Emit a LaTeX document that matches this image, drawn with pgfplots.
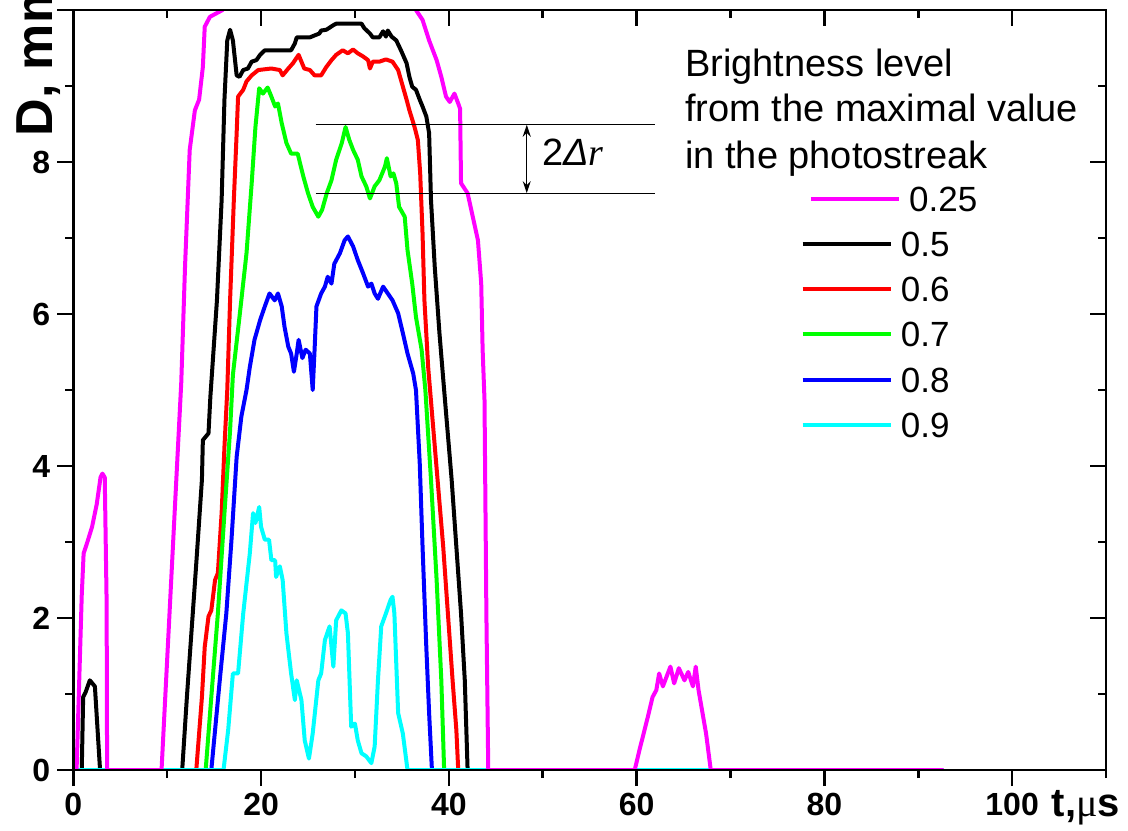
\documentclass[border=0pt]{standalone}
\usepackage{fontspec}
\setmainfont{Liberation Sans}
\newfontfamily\seriffont{Liberation Serif}
\usepackage{pgfplots}
\pgfplotsset{compat=1.18}
\usetikzlibrary{arrows.meta}
\definecolor{cmag}{RGB}{255,0,255}
\definecolor{cred}{RGB}{255,0,0}
\definecolor{cgreen}{RGB}{0,255,0}
\definecolor{cblue}{RGB}{0,0,255}
\definecolor{ccyan}{RGB}{0,255,255}
\pgfplotsset{
  common/.style={
    at={(0pt,0pt)}, anchor=south west, scale only axis,
    width=516.35pt, height=380pt,
    xmin=0, xmax=110, ymin=0, ymax=10,
    xtick={0,20,40,60,80,100}, ytick={0,2,4,6,8,10},
    minor xtick={10,30,50,70,90,110}, minor ytick={1,3,5,7,9},
    major tick length=8pt, minor tick length=4pt,
    tick style={black, line width=1.3pt},
    axis line style={line width=1.3pt},
  }
}
\begin{document}
\begin{tikzpicture}
\useasboundingbox (-36.65pt,-30pt) rectangle (527.35pt,385pt);
\begin{axis}[common,
  xtick pos=left, ytick pos=left, tick align=outside,
  yticklabels={0,2,4,6,8,{}},
  tick label style={font=\bfseries\fontsize{16}{16}\selectfont},
  /pgf/number format/assume math mode=true,
  xlabel={t,{\seriffont\mdseries μ}s},
  ylabel={D, mm},
  xlabel style={at={(axis description cs:0.947,0)}, anchor=base west, yshift=-23.3pt, inner sep=0pt, font=\bfseries\fontsize{20}{20}\selectfont},
  ylabel style={at={(axis description cs:-0.0197,0.833)}, anchor=base west, inner sep=0pt, font=\bfseries\fontsize{26}{26}\selectfont},
  legend style={at={(0.7043,0.768)}, anchor=north west, draw=none, fill=none,
    inner sep=0pt, outer sep=0pt, row sep=10.1pt,
    font=\fontsize{17.5}{17.5}\selectfont,
    nodes={inner sep=0pt, text height=12.5pt, text depth=0pt}},
  legend cell align=left,
  legend image code/.code={\draw[#1, line width=2pt] (0pt,0pt) -- (44pt,0pt); \path[draw=none] (0pt,0pt) -- (46.6pt,0pt);},
]
% black 0.5
\addplot[black, line width=2pt, line join=round, forget plot] coordinates {
(0.9,0)(1.05,0.96)(1.3,1.02)(1.76,1.18)(2.3,1.1)(2.85,0)
};
\addplot[black, line width=2pt, line join=round, forget plot] coordinates {
(11.6,0)(12.1,0.96)(12.6,1.84)(13.1,2.72)(13.7,3.82)(13.8,4.34)(14.4,4.43)(14.6,4.91)(15.3,6.18)(15.8,7.5)(16.1,8.82)(16.4,9.6)(16.7,9.74)(17.0,9.6)(17.4,9.14)(17.7,9.12)(18.1,9.21)(18.6,9.23)(19.0,9.32)(19.5,9.34)(19.9,9.41)(20.4,9.47)(23.2,9.47)(23.6,9.56)(23.8,9.64)(25.2,9.64)(26.2,9.69)(26.4,9.73)(26.95,9.74)(27.7,9.8)(28.0,9.82)(30.7,9.82)(31.0,9.76)(31.6,9.69)(31.9,9.64)(32.6,9.64)(33.0,9.72)(33.3,9.65)(33.5,9.73)(33.9,9.65)(34.4,9.6)(34.9,9.47)(35.5,9.3)(35.8,9.12)(36.1,8.99)(36.5,8.95)(36.9,8.82)(37.2,8.73)(37.6,8.6)(37.9,8.38)(38.1,7.5)(38.5,6.62)(39.0,5.75)(39.5,5.0)(40.3,3.82)(40.8,2.94)(41.3,2.06)(41.7,1.18)(42.0,0)
};
% red 0.6
\addplot[cred, line width=2pt, line join=round, forget plot] coordinates {
(13.1,0)(13.7,0.96)(14.0,1.62)(14.4,2.02)(14.7,2.1)(15.1,2.5)(15.4,2.59)(15.8,3.38)(16.1,4.25)(16.4,5.0)(16.7,6.18)(17.1,7.5)(17.4,8.38)(17.55,8.86)(18.1,8.95)(18.45,9.06)(19.0,9.14)(19.7,9.21)(21.1,9.23)(22.0,9.21)(22.3,9.14)(22.9,9.23)(23.4,9.3)(24.0,9.41)(24.6,9.23)(25.2,9.21)(25.7,9.14)(26.4,9.14)(26.95,9.25)(27.5,9.34)(28.0,9.41)(28.7,9.47)(29.25,9.43)(29.8,9.48)(30.3,9.43)(30.85,9.39)(31.4,9.34)(31.6,9.23)(31.9,9.32)(32.6,9.32)(33.3,9.35)(34.0,9.32)(34.6,9.21)(34.9,9.08)(35.5,8.82)(35.8,8.68)(36.35,8.46)(36.7,8.29)(36.95,7.85)(37.2,7.06)(37.4,6.18)(37.8,5.3)(38.0,5.0)(38.8,3.82)(39.4,2.94)(39.9,2.06)(40.4,1.18)(40.8,0.53)(41.0,0)
};
% green 0.7
\addplot[cgreen, line width=2pt, line join=round, forget plot] coordinates {
(14.1,0)(14.7,0.96)(15.4,2.06)(16.1,3.38)(16.7,4.47)(17.0,5.2)(17.7,5.96)(18.45,6.8)(19.0,7.72)(19.4,8.46)(19.8,8.97)(20.2,8.9)(20.7,8.98)(21.1,8.86)(21.5,8.73)(21.8,8.77)(22.2,8.51)(22.7,8.25)(23.2,8.11)(23.9,8.11)(24.5,7.81)(25.0,7.59)(25.5,7.41)(26.1,7.28)(26.5,7.37)(27.0,7.59)(27.5,7.76)(28.0,8.03)(28.6,8.25)(29.0,8.46)(29.4,8.29)(29.8,8.16)(30.3,8.03)(30.7,7.81)(31.2,7.68)(31.6,7.52)(32.1,7.68)(32.6,7.76)(33.2,7.94)(33.4,8.05)(33.8,7.81)(34.1,7.85)(34.4,7.72)(34.7,7.41)(35.3,7.28)(35.6,6.84)(36.1,6.4)(36.5,5.96)(37.1,5.53)(37.5,5.0)(38.1,3.82)(38.7,2.5)(39.2,1.18)(39.5,0)
};
% blue 0.8
\addplot[cblue, line width=2pt, line join=round, forget plot] coordinates {
(14.7,0)(15.6,1.18)(16.3,2.06)(16.85,3.03)(17.4,4.12)(17.9,4.65)(18.45,5.0)(18.8,5.3)(19.3,5.66)(19.9,5.92)(20.4,6.1)(20.9,6.27)(21.45,6.18)(21.8,6.27)(22.2,6.1)(22.5,5.83)(22.9,5.57)(23.2,5.48)(23.5,5.24)(23.8,5.48)(24.0,5.66)(24.4,5.42)(24.75,5.53)(25.2,5.48)(25.5,5.0)(25.7,5.53)(25.9,6.1)(26.4,6.27)(26.8,6.36)(27.1,6.49)(27.5,6.4)(27.8,6.66)(28.4,6.8)(28.9,6.97)(29.25,7.02)(29.8,6.89)(30.3,6.71)(30.85,6.54)(31.4,6.36)(31.75,6.4)(32.1,6.27)(32.45,6.2)(33.0,6.36)(33.5,6.27)(34.0,6.18)(34.6,6.01)(35.1,5.75)(35.6,5.48)(36.2,5.22)(36.5,5.0)(36.9,4.04)(37.2,2.94)(37.6,1.62)(37.9,0.75)(38.2,0)
};
% cyan 0.9
\addplot[ccyan, line width=2pt, line join=round, forget plot] coordinates {
(0,0)(16.0,0)(16.5,0.53)(17.0,1.27)(17.55,1.27)(18.1,2.06)(18.8,2.85)(19.15,3.38)(19.4,3.25)(19.8,3.46)(20.0,3.2)(20.4,3.03)(20.85,3.03)(21.1,2.76)(21.5,2.76)(21.6,2.54)(22.0,2.68)(22.3,2.5)(22.7,1.8)(23.2,1.27)(23.6,0.92)(23.8,1.18)(24.3,0.92)(24.65,0.39)(25.1,0.15)(25.5,0.48)(26.1,1.18)(26.4,1.27)(26.8,1.71)(27.3,1.89)(27.7,1.36)(28.0,1.97)(28.55,2.1)(29.0,2.06)(29.25,1.8)(29.6,0.57)(30.0,0.61)(30.3,0.39)(30.7,0.22)(31.2,0.18)(31.75,0.09)(32.1,0.31)(32.45,1.18)(32.8,1.89)(33.3,2.06)(33.8,2.24)(34.0,2.28)(34.2,2.06)(34.6,0.75)(35.1,0.48)(35.6,0)(92.7,0)
};
% magenta 0.25
\addplot[cmag, line width=2pt, line join=round, forget plot] coordinates {
(0,0)(0.35,0)(0.9,2.3)(1.1,2.85)(1.5,3.0)(2.0,3.2)(2.5,3.5)(2.9,3.85)(3.1,3.9)(3.35,3.85)(3.55,2.2)(3.6,0)(9.4,0)(11.5,5.1)(11.9,6.62)(12.4,8.16)(12.95,8.68)(13.4,8.82)(13.8,9.25)(14.0,9.78)(14.55,9.91)(15.9,10.0)(16.4,10.8)(36.0,10.8)(36.5,10.0)(37.2,9.87)(37.9,9.6)(38.7,9.34)(39.2,9.12)(39.7,8.86)(40.1,8.79)(40.6,8.9)(41.0,8.77)(41.2,8.7)(41.3,7.72)(42.0,7.59)(42.55,7.28)(43.1,6.97)(43.45,6.4)(43.6,5.53)(43.8,4.87)(44.0,2.06)(44.2,0)(59.8,0)(60.3,0.26)(61.2,0.7)(61.7,0.96)(62.1,1.05)(62.4,1.27)(62.8,1.1)(63.6,1.36)(64.0,1.14)(64.5,1.34)(65.1,1.18)(65.5,1.29)(66.0,1.1)(66.3,1.36)(66.6,1.05)(67.4,0.48)(67.9,0)(92.7,0)
};
% legend
\addlegendimage{legend image code/.code={\draw[cmag, line width=2pt] (4.15pt,0pt) -- (48.15pt,0pt); \path[draw=none] (0pt,0pt) -- (46.6pt,0pt);}}
\addlegendentry{\hspace*{4.15pt}0.25}
\addlegendimage{black}
\addlegendentry{0.5}
\addlegendimage{cred}
\addlegendentry{0.6}
\addlegendimage{cgreen}
\addlegendentry{0.7}
\addlegendimage{cblue}
\addlegendentry{0.8}
\addlegendimage{ccyan}
\addlegendentry{0.9}
% annotation
\draw[line width=0.6pt] (axis cs:25.8,8.49) -- (axis cs:62.0,8.49);
\draw[line width=0.6pt] (axis cs:25.8,7.59) -- (axis cs:62.0,7.59);
\draw[line width=0.6pt, {Stealth[length=6pt,width=4pt]}-{Stealth[length=6pt,width=4pt]}] (axis cs:48.3,8.49) -- (axis cs:48.3,7.59);
\node[anchor=base west, inner sep=0pt, font=\fontsize{19}{19}\selectfont] at (axis cs:49.9,7.96) {2\textit{Δ}{\seriffont\itshape r}};
\node[anchor=base west, inner sep=0pt, font=\fontsize{19}{19}\selectfont] at (axis cs:65.14,9.122) {Brightness level};
\node[anchor=base west, inner sep=0pt, font=\fontsize{19}{19}\selectfont] at (axis cs:65.14,8.530) {from the maximal value};
\node[anchor=base west, inner sep=0pt, font=\fontsize{19}{19}\selectfont] at (axis cs:65.14,7.917) {in the photostreak};
\end{axis}
\begin{axis}[common,
  xtick pos=right, ytick pos=right, tick align=inside,
  xticklabels={}, yticklabels={},
]
\end{axis}
\end{tikzpicture}
\end{document}
